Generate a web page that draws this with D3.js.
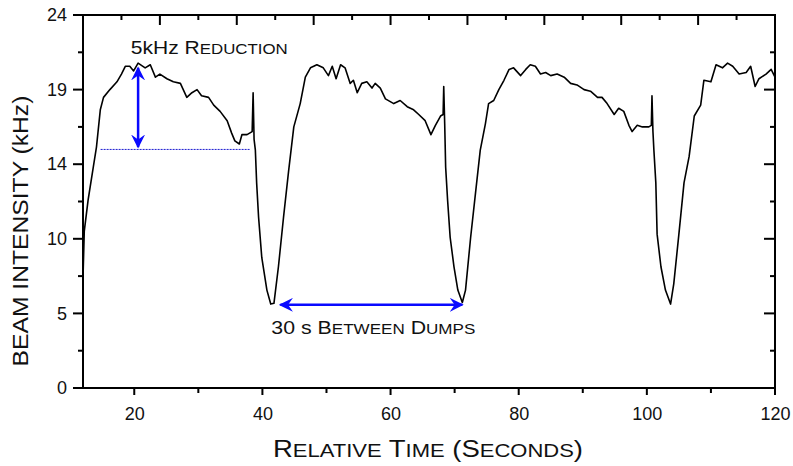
<!DOCTYPE html>
<html>
<head>
<meta charset="utf-8">
<script src="https://cdn.jsdelivr.net/npm/d3@7"></script>
<style>
  body { margin: 0; background: #fff; }
  svg { display: block; font-family: Arial, "Liberation Sans", sans-serif; }
</style>
</head>
<body>
<script>
// beam intensity trace
var times = [12.0, 12.2, 12.8, 13.6, 14.1, 14.7, 15.2, 16.2, 17.3, 18.0, 18.6, 19.3, 19.9, 20.6, 21.7, 22.5,
  23.3, 24.0, 25.1, 26.1, 27.2, 28.2, 29.0, 29.8, 30.5, 31.6, 32.4, 33.4, 34.5, 35.2, 35.7, 36.4, 36.8,
  37.6, 38.4, 38.55, 38.7, 38.9, 39.1, 39.4, 39.9, 40.7, 41.3, 41.8, 42.5, 43.3, 44.1, 44.9, 45.9, 46.7,
  47.5, 48.5, 49.5, 50.3, 50.9, 51.5, 52.2, 52.9, 53.7, 54.2, 54.8, 55.5, 56.3, 57.1, 57.6, 58.4, 59.2,
  60.5, 61.5, 62.6, 63.6, 64.4, 65.4, 66.3, 67.0, 67.8, 68.2, 68.3, 68.45, 68.6, 68.9, 69.3, 69.9, 70.5,
  71.2, 71.7, 72.5, 73.3, 74.0, 74.8, 75.3, 76.1, 76.9, 77.7, 78.5, 79.2, 80.3, 81.1, 81.8, 82.6, 83.4,
  84.2, 85.0, 86.0, 87.1, 88.1, 89.1, 90.2, 91.2, 92.3, 93.0, 93.8, 94.9, 95.6, 96.4, 97.2, 97.7, 98.5,
  99.3, 100.3, 100.7, 100.8, 100.95, 101.1, 101.4, 101.6, 102.2, 102.9, 103.7, 104.2, 105.0, 105.8, 106.6,
  107.4, 108.4, 108.9, 110.0, 110.8, 111.8, 112.6, 113.4, 114.4, 115.5, 116.2, 116.9, 117.5, 118.6, 119.4, 120.0];
var intensity = [7.1, 10.1, 12.1, 14.2, 15.5, 17.9, 18.7, 19.2, 19.7, 20.2, 20.7, 20.7, 20.4, 20.9, 20.6, 20.8,
  20.0, 20.2, 19.9, 19.7, 19.6, 18.7, 19.0, 19.2, 18.8, 18.7, 18.2, 17.8, 17.2, 16.4, 15.9, 15.7, 16.3,
  16.3, 16.5, 19.0, 16.0, 15.3, 13.2, 11.0, 8.4, 6.3, 5.4, 5.45, 7.8, 11.0, 14.0, 16.8, 18.3, 20.0,
  20.6, 20.8, 20.6, 20.1, 20.7, 19.9, 20.8, 20.6, 19.6, 19.8, 19.0, 19.6, 19.7, 19.3, 19.6, 19.3, 18.6,
  18.3, 18.5, 18.1, 17.9, 17.6, 17.2, 16.3, 16.9, 17.5, 17.6, 19.4, 17.0, 14.2, 12.1, 9.7, 7.8, 6.3,
  5.5, 6.3, 9.7, 12.7, 15.3, 17.0, 18.3, 18.5, 19.2, 19.8, 20.5, 20.6, 20.1, 20.5, 20.8, 20.7, 20.2,
  20.3, 20.1, 20.2, 20.0, 19.6, 19.5, 19.2, 19.1, 18.7, 18.7, 18.3, 17.6, 18.0, 17.8, 16.9, 16.5, 16.9,
  16.8, 16.8, 16.9, 18.8, 16.5, 15.3, 13.2, 9.9, 7.8, 6.3, 5.4, 6.7, 9.9, 13.2, 14.9,
  17.5, 18.2, 19.8, 19.7, 20.8, 20.6, 20.9, 20.7, 20.2, 20.3, 20.7, 19.4, 19.9, 20.2, 20.5, 20.0];

var xTicks = [20, 40, 60, 80, 100, 120];
var xMinor = [30, 50, 70, 90, 110];
var yTicks = [0, 4.8, 9.6, 14.4, 19.2, 24];
var yTickLabels = ["0", "5", "10", "14", "19", "24"];
var yMinor = [2.4, 7.2, 12, 16.8, 21.6];
var topMajor = [24, 36, 48, 60, 72, 84, 96, 108, 120];
var topMinor = [18, 30, 42, 54, 66, 78, 90, 102, 114];

// annotations (data coords)
var reductionArrow = {t: 20.6, from: 20.6, to: 15.5};
var reductionLevel = {v: 15.35, from: 14.75, to: 38.0};
var dumpArrow = {v: 5.35, from: 42.8, to: 71.2};

var width = 793, height = 466;
var margin = {left: 83, right: 18, top: 15, bottom: 78};

var x = d3.scaleLinear().domain([12, 120]).range([margin.left, width - margin.right]);
var y = d3.scaleLinear().domain([0, 24]).range([height - margin.bottom, margin.top]);

var svg = d3.select("body").append("svg").attr("width", width).attr("height", height);

var defs = svg.append("defs");
defs.append("marker")
    .attr("id", "head")
    .attr("viewBox", "0 0 10 10")
    .attr("refX", 9).attr("refY", 5)
    .attr("markerUnits", "userSpaceOnUse")
    .attr("markerWidth", 14).attr("markerHeight", 14)
    .attr("orient", "auto-start-reverse")
    .append("path")
    .attr("d", "M0,0 L10,5 L0,10 L3.5,5 Z")
    .attr("fill", "#0a0aff");

var data = times.map(function(t, i){ return {t: t, v: intensity[i]}; });

var line = d3.line()
    .x(function(d){ return x(d.t); })
    .y(function(d){ return y(d.v); });

svg.append("path")
    .attr("d", line(data))
    .attr("fill", "none")
    .attr("stroke", "#000")
    .attr("stroke-width", 1.6)
    .attr("stroke-linejoin", "round");

// tick labels from d3 axes
var fmt = function(d){ return yTickLabels[yTicks.indexOf(d)]; };
function axisG(tx, ty, ax){
  var g = svg.append("g").attr("transform", "translate(" + tx + "," + ty + ")").call(ax);
  g.attr("font-size", 18).attr("font-family", null);
  g.select(".domain").remove();
  g.selectAll(".tick line").remove();
  g.selectAll(".tick text").attr("fill", "#111");
  return g;
}
axisG(0, y(0), d3.axisBottom(x).tickValues(xTicks).tickSize(7).tickPadding(12));
axisG(x(12), 0, d3.axisLeft(y).tickValues(yTicks).tickSize(10).tickPadding(6).tickFormat(fmt));

// tick marks as small filled rects (x-positioned on the top/bottom, y-positioned on the sides)
var tw = 2;
function vTicks(vals, y0, len){
  svg.selectAll(null).data(vals).enter().append("rect")
    .attr("x", function(d){ return x(d) - tw / 2; })
    .attr("y", Math.min(y0, y0 + len))
    .attr("width", tw)
    .attr("height", Math.abs(len))
    .attr("fill", "#000");
}
function hTicks(vals, x0, len){
  svg.selectAll(null).data(vals).enter().append("rect")
    .attr("y", function(d){ return y(d) - tw / 2; })
    .attr("x", Math.min(x0, x0 + len))
    .attr("height", tw)
    .attr("width", Math.abs(len))
    .attr("fill", "#000");
}
vTicks(xTicks, y(0), 7);
vTicks(xMinor, y(0), 5);
vTicks(topMajor, y(24), 10);
vTicks(topMinor, y(24), 5);
hTicks(yTicks, x(12), -10);
hTicks(yMinor, x(12), -5);
hTicks(yTicks, x(120), -11);
hTicks(yMinor, x(120), -5);

// frame
svg.append("rect")
    .attr("x", x(12)).attr("y", y(24))
    .attr("width", x(120) - x(12)).attr("height", y(0) - y(24))
    .attr("fill", "none").attr("stroke", "#000").attr("stroke-width", 2);

// small caps helper
function caps(sel, parts, size){
  parts.forEach(function(p){
    sel.append("tspan").text(p[0]).attr("font-size", size * p[1]);
  });
}
// the original lettering is wider than Arial: stretch horizontally to a target width
function stretch(sel, target, ax, ay){
  var w = sel.node().getComputedTextLength();
  var k = target / w;
  sel.attr("transform", "translate(" + ax + "," + ay + ") scale(" + k + ",1) translate(" + (-ax) + "," + (-ay) + ")");
}

var xl = svg.append("text").attr("x", 428).attr("y", 457).attr("text-anchor", "middle").attr("fill", "#111");
caps(xl, [["R", 1], ["ELATIVE", 0.8], [" T", 1], ["IME", 0.8], [" (S", 1], ["ECONDS", 0.8], [")", 1]], 23);
stretch(xl, 310, 428, 457);

var yl = svg.append("text")
    .attr("text-anchor", "middle")
    .attr("font-size", 22)
    .attr("fill", "#111")
    .text("BEAM INTENSITY (kHz)");
var ylw = yl.node().getComputedTextLength();
yl.attr("transform", "translate(28,231) rotate(-90) scale(" + (271 / ylw) + ",1)");

var a1x = x(19.45), a1y = y(21.5);
var a1 = svg.append("text").attr("x", a1x).attr("y", a1y).attr("fill", "#111");
caps(a1, [["5kHz R", 1], ["EDUCTION", 0.8]], 19);
stretch(a1, 157, a1x, a1y);

var a2x = x(41.4), a2y = y(3.5);
var a2 = svg.append("text").attr("x", a2x).attr("y", a2y).attr("fill", "#111");
caps(a2, [["30 s B", 1], ["ETWEEN", 0.8], [" D", 1], ["UMPS", 0.8]], 19);
stretch(a2, 204, a2x, a2y);

// blue annotation marks
svg.append("line")
    .attr("x1", x(reductionLevel.from)).attr("x2", x(reductionLevel.to))
    .attr("y1", y(reductionLevel.v)).attr("y2", y(reductionLevel.v))
    .attr("stroke", "#1a1ad0").attr("stroke-width", 1).attr("stroke-dasharray", "2,1");

svg.append("line")
    .attr("x1", x(reductionArrow.t)).attr("x2", x(reductionArrow.t))
    .attr("y1", y(reductionArrow.from)).attr("y2", y(reductionArrow.to))
    .attr("stroke", "#0a0aff").attr("stroke-width", 2.5)
    .attr("marker-start", "url(#head)").attr("marker-end", "url(#head)");

svg.append("line")
    .attr("x1", x(dumpArrow.from)).attr("x2", x(dumpArrow.to))
    .attr("y1", y(dumpArrow.v)).attr("y2", y(dumpArrow.v))
    .attr("stroke", "#0a0aff").attr("stroke-width", 2.5)
    .attr("marker-start", "url(#head)").attr("marker-end", "url(#head)");
</script>
</body>
</html>
